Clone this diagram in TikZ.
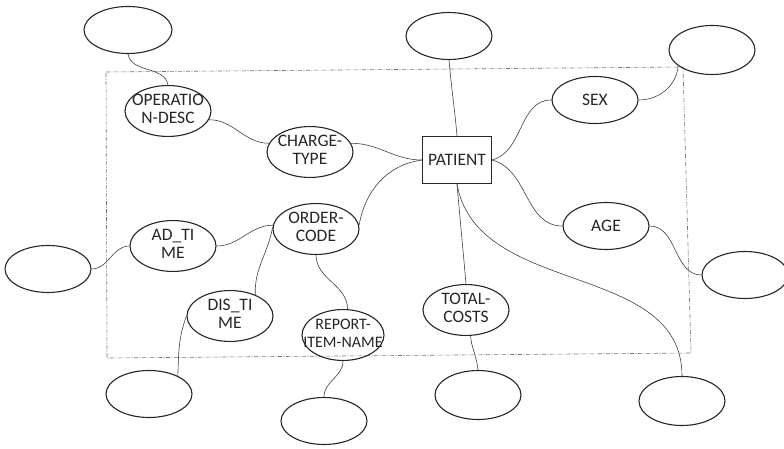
\documentclass[tikz,border=0pt]{standalone}
\usepackage{fontspec}
\setmainfont{Carlito}
\usepackage{tikz}
\usetikzlibrary{shapes, positioning}

\newcommand{\twoline}[2]{\makebox[0pt]{\begin{tabular}{@{}c@{}}#1\\#2\end{tabular}}}

\begin{document}
\begin{tikzpicture}[x=1pt, y=1pt,
    attr/.style={ellipse, draw=black!85, line width=1.1pt,
        minimum width=86pt, minimum height=47pt, inner sep=0pt,
        font=\fontsize{17.5}{18}\selectfont, text=black!85},
    ent/.style={rectangle, draw=black!85, line width=1.1pt,
        minimum width=69pt, minimum height=47pt, inner sep=0pt,
        font=\fontsize{17.5}{18}\selectfont, text=black!85},
    link/.style={draw=black!75, line width=0.6pt},
    frame/.style={draw=black!55, line width=0.6pt,
        dash pattern=on 4pt off 1.5pt on 1pt off 1.5pt}]

    \useasboundingbox (0,0) rectangle (784,448);

    % dashed frame
    \draw[frame] (106,376) -- (683,381) -- (691,95) -- (107,90) -- cycle;

    % entity
    \node[ent] (pat) at (457,288) {PATIENT};

    % attributes
    \node[attr] (opdesc) at (168,337) {\twoline{OPERATIO}{N-DESC}};
    \node[attr] (charge) at (310,296) {\twoline{CHARGE-}{TYPE}};
    \node[attr] (sex) at (595,348) {SEX};
    \node[attr] (age) at (606,222) {AGE};
    \node[attr] (order) at (316,219) {\twoline{ORDER-}{CODE}};
    \node[attr] (adtime) at (173,202) {\twoline{AD\_TI}{ME}};
    \node[attr] (distime) at (230,132) {\twoline{DIS\_TI}{ME}};
    \node[attr, minimum width=82pt] (report) at (343,113)
        {\fontsize{16}{18}\selectfont\twoline{REPORT-}{ITEM-NAME}};
    \node[attr] (total) at (466,138) {\twoline{TOTAL-}{COSTS}};

    % empty attributes
    \node[attr, minimum width=88pt] (e1) at (128,418) {};
    \node[attr] (etop) at (449,412) {};
    \node[attr, minimum height=49pt] (etr) at (712,398) {};
    \node[attr] (eright) at (745,173) {};
    \node[attr] (eleft) at (48,179) {};
    \node[attr] (ebot1) at (149,54) {};
    \node[attr] (ebot2) at (324,27) {};
    \node[attr, minimum height=49pt] (ebot3) at (478,53) {};
    \node[attr, minimum height=49pt] (ebr) at (682,47) {};

    % links
    \draw[link] (e1.south) to[out=-80, in=100] (opdesc.north);
    \draw[link] (opdesc.-12) to[out=0, in=180] (charge.168);
    \draw[link] (charge.12) to[out=0, in=180] (pat.west);
    \draw[link] (order.5) to[out=80, in=188] (pat.west);
    \draw[link] (etop.south) to[out=-85, in=95] (pat.north);
    \draw[link] (pat.east) to[out=15, in=180] (sex.west);
    \draw[link] (sex.east) to[out=0, in=-95] (etr.205);
    \draw[link] (pat.east) to[out=-15, in=180] (age.west);
    \draw[link] (age.east) to[out=0, in=180] (eright.west);
    \draw[link] (pat.south) to[out=-85, in=95] (total.north);
    \draw[link] (pat.south) to[out=-80, in=90] (ebr.north);
    \draw[link] (total.-80) to[out=-85, in=95] (ebot3.north);
    \draw[link] (order.175) to[out=180, in=0] (adtime.east);
    \draw[link] (order.178) to[out=-100, in=92] (distime.40);
    \draw[link] (order.south) to[out=-90, in=90] (report.80);
    \draw[link] (report.south) to[out=-90, in=90] (ebot2.north);
    \draw[link] (adtime.west) to[out=180, in=0] (eleft.east);
    \draw[link] (distime.west) to[out=-110, in=88] (ebot1.32);
\end{tikzpicture}
\end{document}
